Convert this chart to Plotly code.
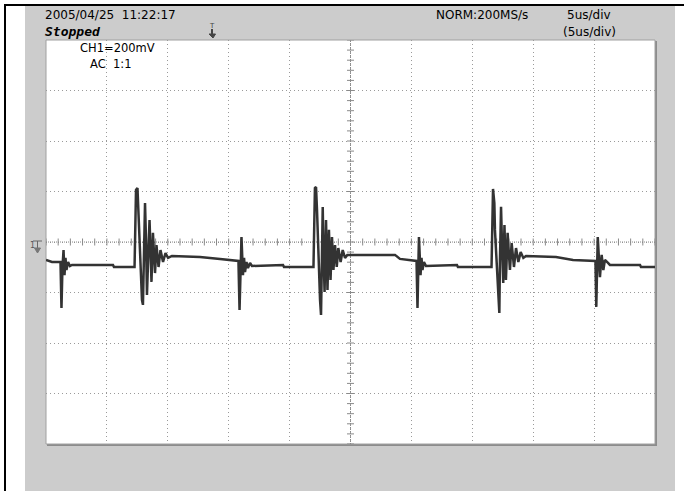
import plotly.graph_objects as go
import numpy as np

# ---- data: time (microseconds, 5 us/div) and voltage (mV, 200 mV/div) ----
time_us = [0.00, 0.49, 1.19, 1.27, 1.35, 1.44, 1.52, 1.60, 1.68, 1.81, 1.97, 2.13, 5.50, 5.58, 7.27,
           7.39, 7.51, 7.59, 7.68, 7.76, 7.88, 7.96, 8.05, 8.13, 8.21, 8.29, 8.41, 8.50, 8.58, 8.66,
           8.78, 8.95, 9.07, 9.24, 9.40, 9.61, 9.81, 10.02, 10.34, 12.64, 14.29, 15.80,
           15.89, 15.97, 16.05, 16.17, 16.26, 16.34, 16.46, 16.58, 16.75, 16.91, 19.46, 19.54, 21.96,
           22.08, 22.17, 22.25, 22.33, 22.41, 22.50, 22.58, 22.66, 22.72, 22.78, 22.87, 22.99, 23.11,
           23.23, 23.36, 23.48, 23.60, 23.73, 23.87, 24.00, 24.19, 24.36, 24.55, 24.74, 28.65, 29.06, 30.42,
           30.50, 30.57, 30.62, 30.75, 30.83, 30.91, 31.03, 31.20, 33.74, 33.82, 36.58,
           36.70, 36.81, 36.86, 36.99, 37.11, 37.22, 37.27, 37.36, 37.44, 37.54, 37.64, 37.76, 37.90,
           38.09, 38.23, 38.42, 38.59, 38.78, 38.97, 39.19, 39.41, 41.87, 43.27, 45.11,
           45.18, 45.24, 45.30, 45.48, 45.62, 45.76, 45.89, 46.14, 46.30, 48.77, 48.85, 50.00]
volt_mV = [-71, -79, -79, -261, -103, -32, -131, -63, -111, -79, -95, -91, -91, -99, -99,
           206, 214, 111, 48, -119, -230, -249, -32, 154, 8, -210, -32, 87, -32, -158,
           36, -123, -12, -99, -32, -79, -44, -63, -55, -59, -67, -75,
           -269, -103, 20, -131, -63, -119, -79, -103, -83, -95, -91, -99, -99,
           214, 218, 127, 8, -131, -230, -289, -32, 139, -32, -198, 87, -190,
           48, -150, 20, -111, -12, -99, -24, -79, -32, -63, -51, -51, -67, -75,
           -261, -103, 20, -131, -63, -111, -79, -95, -91, -99, -99,
           210, 154, 48, -71, -210, -281, -71, 139, -12, -162, 67, -150, 36,
           -111, -4, -99, -24, -79, -40, -63, -55, -59, -71, -75,
           -257, -103, 20, -139, -51, -111, -71, -83, -91, -91, -99, -99]

x_divs = list(range(0, 51, 5))
y_divs = list(range(-800, 801, 200))

header_left = "2005/04/25  11:22:17"
status_text = "Stopped"
ch_text = "CH1=200mV"
coupling_text = "AC  1:1"
rate_text = "NORM:200MS/s"
tdiv_text = "5us/div"
tdiv2_text = "(5us/div)"

# ---- layout geometry (pixels) ----
W, H = 684, 491
L, R, T, B = 46, 655, 40, 444


def fx(px):
    return (px - L) / (R - L)


def fy(py):
    return (B - py) / (B - T)


fig = go.Figure()

# centre-line minor ticks
minor_x = np.arange(0, 50.01, 1.0)
minor_y = np.arange(-800, 800.01, 40.0)
fig.add_trace(go.Scatter(x=minor_x, y=[0] * len(minor_x), mode='markers',
                         marker=dict(symbol='line-ns', size=5, line=dict(color='#8a8a8a', width=1)),
                         hoverinfo='skip', showlegend=False))
fig.add_trace(go.Scatter(x=[25] * len(minor_y), y=minor_y, mode='markers',
                         marker=dict(symbol='line-ew', size=5, line=dict(color='#8a8a8a', width=1)),
                         hoverinfo='skip', showlegend=False))

# waveform
fig.add_trace(go.Scatter(x=time_us, y=volt_mV, mode='lines',
                         line=dict(color='#333333', width=2.5),
                         hoverinfo='skip', showlegend=False))

shapes = []
# grey instrument background
shapes.append(dict(type='rect', xref='paper', yref='paper', layer='below',
                   x0=fx(25), x1=fx(675), y0=fy(H + 2), y1=fy(6),
                   fillcolor='#cccccc', line=dict(width=0)))
# shadow of the screen
shapes.append(dict(type='rect', xref='paper', yref='paper', layer='below',
                   x0=fx(L + 1), x1=fx(R + 2), y0=fy(B + 2), y1=fy(T + 1),
                   fillcolor='#8c8c8c', line=dict(width=0)))
# white screen
shapes.append(dict(type='rect', xref='paper', yref='paper', layer='below',
                   x0=0, x1=1, y0=0, y1=1,
                   fillcolor='white', line=dict(color='#a0a0a0', width=1)))
# black frame lines
shapes.append(dict(type='line', xref='paper', yref='paper', layer='above',
                   x0=fx(5), x1=fx(5), y0=fy(H + 2), y1=fy(4),
                   line=dict(color='black', width=2)))
shapes.append(dict(type='line', xref='paper', yref='paper', layer='above',
                   x0=fx(4), x1=fx(W + 2), y0=fy(5), y1=fy(5),
                   line=dict(color='black', width=2)))
# centre cross
shapes.append(dict(type='line', xref='x', yref='y', layer='between',
                   x0=0, x1=50, y0=0, y1=0, line=dict(color='#8a8a8a', width=1, dash='1px,1px')))
shapes.append(dict(type='line', xref='x', yref='y', layer='between',
                   x0=25, x1=25, y0=-800, y1=800, line=dict(color='#8a8a8a', width=1, dash='1px,1px')))
# ground marker (left)
shapes.append(dict(type='path', xref='paper', yref='y', xsizemode='pixel', ysizemode='pixel',
                   xanchor=0, yanchor=0,
                   path='M -13 1 L -4 1 M -8.5 1 L -8.5 -6',
                   line=dict(color='#666666', width=1)))
shapes.append(dict(type='path', xref='paper', yref='y', xsizemode='pixel', ysizemode='pixel',
                   xanchor=0, yanchor=0,
                   path='M -11.5 -6 L -5.5 -6 L -8.5 -11 Z',
                   fillcolor='#777777', line=dict(color='#777777', width=1)))
# trigger marker (top)
shapes.append(dict(type='path', xref='paper', yref='paper', xsizemode='pixel', ysizemode='pixel',
                   xanchor=fx(212), yanchor=1,
                   path='M 0 11 L 0 5',
                   line=dict(color='#444444', width=2)))
shapes.append(dict(type='path', xref='paper', yref='paper', xsizemode='pixel', ysizemode='pixel',
                   xanchor=fx(212), yanchor=1,
                   path='M -3 6 L 3.5 6 L 1 2 Z',
                   fillcolor='#444444', line=dict(color='#444444', width=1)))

annotations = []


def add_text(txt, px, py, size=12, family='DejaVu Sans', **font_kw):
    annotations.append(dict(text=txt, xref='paper', yref='paper', x=fx(px), y=fy(py),
                            xanchor='left', yanchor='middle', showarrow=False,
                            font=dict(family=family, size=size, color='black', **font_kw)))


add_text(header_left, 43, 15, size=12)
add_text(status_text, 43, 32, size=13, family='DejaVu Sans Mono', style='italic', weight='bold')
add_text(ch_text, 78, 48, size=11.5)
add_text(coupling_text, 88, 64, size=11.5)
add_text(rate_text, 434, 15, size=12)
add_text(tdiv_text, 565, 15, size=12)
add_text(tdiv2_text, 561, 32, size=12)
annotations.append(dict(text='1', xref='paper', yref='y', x=fx(32), y=0, yshift=-3,
                        xanchor='center', yanchor='middle', showarrow=False,
                        font=dict(family='DejaVu Sans', size=8, color='#555555')))
annotations.append(dict(text='T', xref='paper', yref='paper', x=fx(212), y=fy(26),
                        xanchor='center', yanchor='middle', showarrow=False,
                        font=dict(family='DejaVu Sans', size=7, color='#444444')))

fig.update_layout(
    width=W, height=H, autosize=False,
    margin=dict(l=L, r=W - R, t=T, b=H - B, pad=0),
    paper_bgcolor='white', plot_bgcolor='rgba(0,0,0,0)',
    shapes=shapes, annotations=annotations,
    xaxis=dict(range=[0, 50], tickvals=x_divs, showticklabels=False, ticks='',
               showgrid=True, gridcolor='#9a9a9a', gridwidth=1, griddash='1px,3px',
               zeroline=False, showline=False, fixedrange=True),
    yaxis=dict(range=[-800, 800], tickvals=y_divs, showticklabels=False, ticks='',
               showgrid=True, gridcolor='#9a9a9a', gridwidth=1, griddash='1px,3px',
               zeroline=False, showline=False, fixedrange=True),
)

fig.write_html("out.html", config={'displayModeBar': False},
               post_script="document.body.style.margin='0';document.body.style.overflow='hidden';")
